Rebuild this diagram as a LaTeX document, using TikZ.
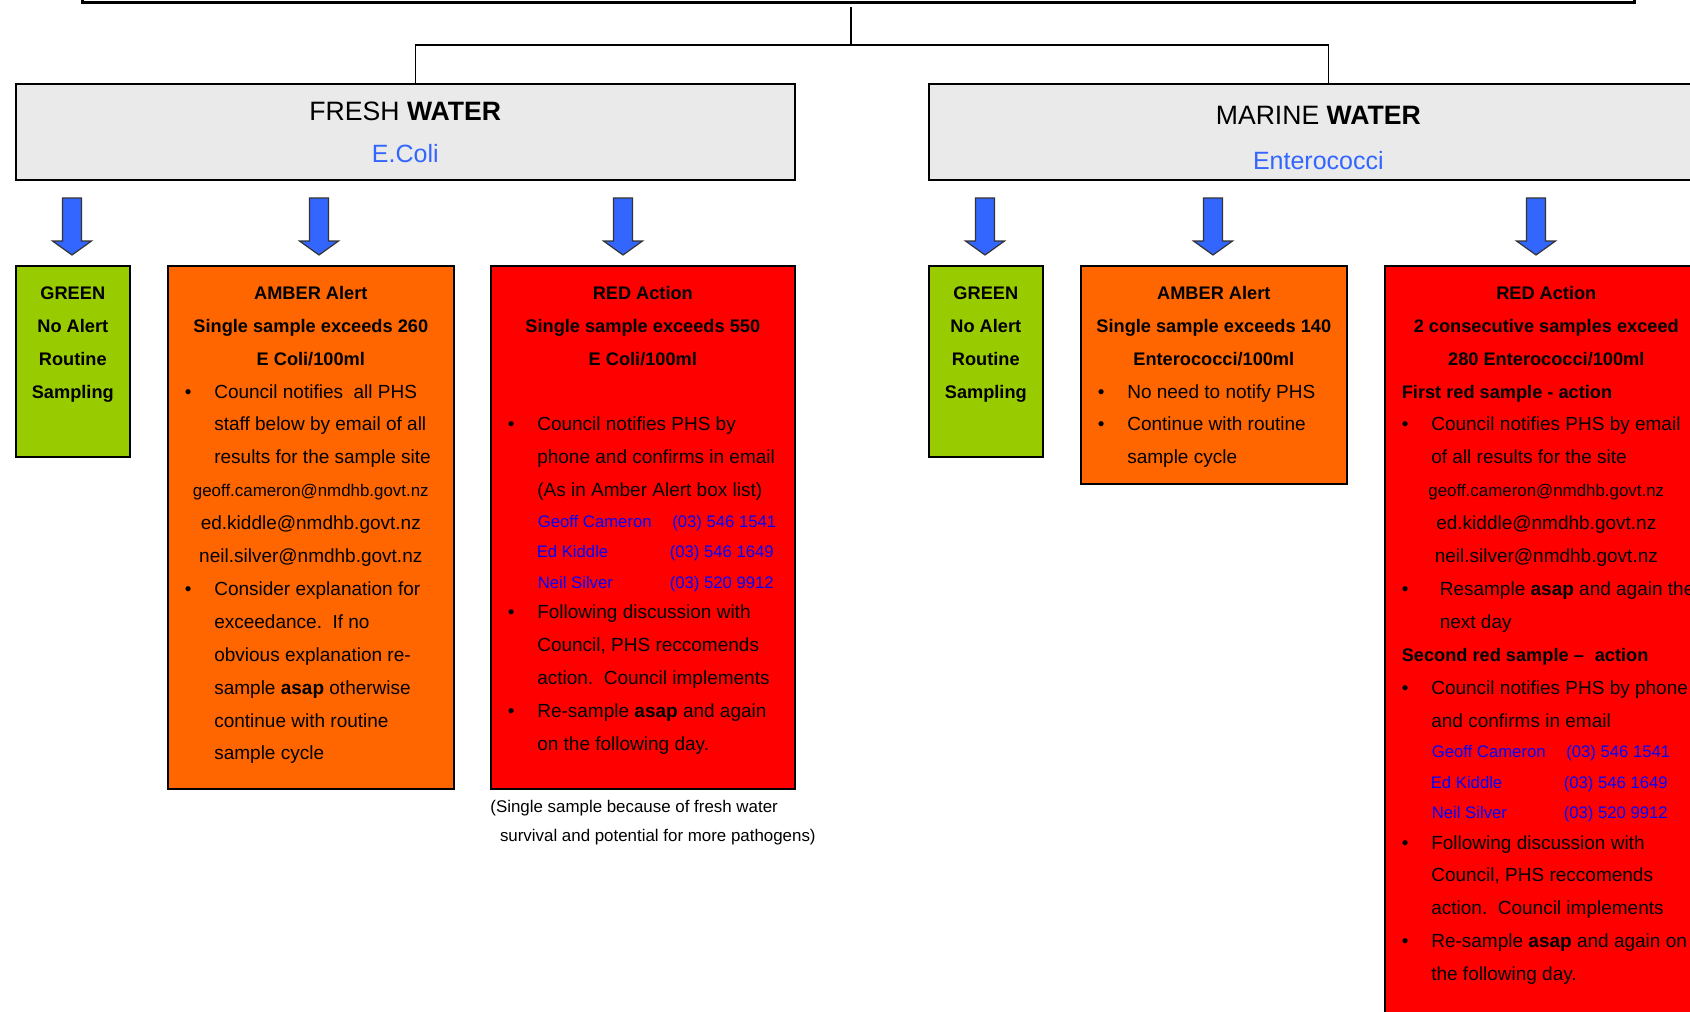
\documentclass[tikz,border=0pt]{standalone}
\usepackage{fontspec}
\setmainfont{Liberation Sans}
\usetikzlibrary{positioning}

\definecolor{hdrgray}{RGB}{234,234,234}
\definecolor{hdrblue}{RGB}{51,102,255}
\definecolor{greencol}{RGB}{153,204,0}
\definecolor{ambercol}{RGB}{255,102,0}
\definecolor{redcol}{RGB}{255,0,0}
\definecolor{callblue}{RGB}{0,0,255}

\newcommand{\boxtext}[5]{\parbox[t][#2][t]{#1}{\fontsize{9.5}{#4}\selectfont\rule{0pt}{#3}\ignorespaces#5}}
\newcommand{\hd}[1]{\makebox[\linewidth][c]{\fontsize{9.1}{16}\selectfont\bfseries #1}}
\newcommand{\ctr}[1]{\makebox[\linewidth][c]{#1}}
\newcommand{\bul}[2][14.75pt]{\hspace*{8.5pt}\makebox[#1][l]{\textbullet}#2}
\newcommand{\cont}[2][23.25pt]{\hspace*{#1}#2}
\newcommand{\sub}[1]{\hspace*{8.5pt}{\fontsize{9.1}{16}\selectfont\bfseries #1}}
\newcommand{\call}[4][23.5pt]{\hspace*{#1}{\fontsize{8.35}{15}\selectfont\color{callblue}\makebox[\dimexpr#3-#1\relax][l]{#2}#4}}
\newcommand{\mail}[1]{\ctr{\fontsize{8.45}{15}\selectfont #1}}

\begin{document}
\begin{tikzpicture}[x=0.5pt,y=-0.5pt,
		panel/.style={draw, line width=0.8pt, inner sep=0pt, anchor=north west},
		wire/.style={line width=0.6pt},
		blockarrow/.style={draw=black!80, line width=0.6pt, fill=hdrblue}]
		\useasboundingbox (0,0) rectangle (1690,1011);
		\clip (0,0) rectangle (1690,1011);

		\draw (81,-60) node [panel, line width=1.5pt, minimum width=776pt, minimum height=30.75pt] (wq) {};

		\draw (15,83) node [panel, fill=hdrgray] (fresh) {\boxtext{389.5pt}{48pt}{18.5pt}{20.75pt}{\ctr{\fontsize{13.3}{15}\selectfont FRESH \textbf{WATER}}\\
			\ctr{\fontsize{12.5}{15}\selectfont\color{hdrblue}E.Coli}}};
		\draw (928,83) node [panel, fill=hdrgray] (marine) {\boxtext{389.5pt}{48pt}{20.5pt}{22.25pt}{\ctr{\fontsize{13.3}{15}\selectfont MARINE \textbf{WATER}}\\
			\ctr{\fontsize{12.5}{15}\selectfont\color{hdrblue}Enterococci}}};

		\coordinate (hub) at (851,7);
		\coordinate (bus) at (851,45);
		\draw [wire] (hub) -- (bus);
		\draw [wire] (bus) -| ([xshift=5pt]fresh.north);
		\draw [wire] (bus) -| ([xshift=5pt]marine.north);

		\foreach \ax in {72,319,623,985,1213,1536}
			\draw [blockarrow] (\ax-9.5,198) -- (\ax+9.5,198) -- (\ax+9.5,241) -- (\ax+19.5,241) -- (\ax,255) -- (\ax-19.5,241) -- (\ax-9.5,241) -- cycle;

		\draw (15,265) node [panel, fill=greencol] (fgreen) {\boxtext{57pt}{95.5pt}{16.75pt}{16.45pt}{\hd{GREEN}\\
			\hd{No Alert}\\
			\hd{Routine}\\
			\hd{Sampling}}};

		\draw (167,265) node [panel, fill=ambercol] (famber) {\boxtext{143pt}{261.5pt}{16.75pt}{16.45pt}{\hd{AMBER Alert}\\
			\hd{Single sample exceeds 260}\\
			\hd{E Coli/100ml}\\
			\bul{Council notifies\ \ all PHS}\\
			\cont{staff below by email of all}\\
			\cont{results for the sample site}\\
			\mail{geoff.cameron@nmdhb.govt.nz}\\
			\ctr{ed.kiddle@nmdhb.govt.nz}\\
			\ctr{neil.silver@nmdhb.govt.nz}\\
			\bul{Consider explanation for}\\
			\cont{exceedance.\ \ If no}\\
			\cont{obvious explanation re-}\\
			\cont{sample \textbf{asap} otherwise}\\
			\cont{continue with routine}\\
			\cont{sample cycle}}};

		\draw (490,265) node [panel, fill=redcol] (fred) {\boxtext{152pt}{261.5pt}{16.75pt}{16.45pt}{\hd{RED Action}\\
			\hd{Single sample exceeds 550}\\
			\hd{E Coli/100ml}\\[16.45pt]
			\bul{Council notifies PHS by}\\
			\cont{phone and confirms in email}\\
			\cont{(As in Amber Alert box list)}\\[-1.2pt]
			\call{Geoff Cameron}{90.75pt}{(03) 546 1541}\\[-1.2pt]
			\call[23pt]{Ed Kiddle}{89.5pt}{(03) 546 1649}\\[-1.2pt]
			\call{Neil Silver}{89.5pt}{(03) 520 9912}\\[-1.2pt]
			\bul{Following discussion with}\\
			\cont{Council, PHS reccomends}\\
			\cont{action.\ \ Council implements}\\
			\bul{Re-sample \textbf{asap} and again}\\
			\cont{on the following day.}}};

		\draw (490,812) node [anchor=base west, inner sep=0pt] (fnote) {\parbox[t]{170pt}{\fontsize{8.45}{14.5}\selectfont (Single sample because of fresh water\\
			\hspace*{4.8pt}survival and potential for more pathogens)}};

		\draw (928,265) node [panel, fill=greencol] (mgreen) {\boxtext{57pt}{95.5pt}{16.75pt}{16.45pt}{\hd{GREEN}\\
			\hd{No Alert}\\
			\hd{Routine}\\
			\hd{Sampling}}};

		\draw (1080,265) node [panel, fill=ambercol] (mamber) {\boxtext{133pt}{109pt}{16.75pt}{16.45pt}{\hd{AMBER Alert}\\
			\hd{Single sample exceeds 140}\\
			\hd{Enterococci/100ml}\\
			\bul{No need to notify PHS}\\
			\bul{Continue with routine}\\
			\cont{sample cycle}}};

		\draw (1384,265) node [panel, fill=redcol] (mred) {\boxtext{161.5pt}{400pt}{16.75pt}{16.45pt}{\hd{RED Action}\\
			\hd{2 consecutive samples exceed}\\
			\hd{280 Enterococci/100ml}\\
			\sub{First red sample - action}\\
			\bul{Council notifies PHS by email}\\
			\cont{of all results for the site}\\
			\mail{geoff.cameron@nmdhb.govt.nz}\\
			\ctr{ed.kiddle@nmdhb.govt.nz}\\
			\ctr{neil.silver@nmdhb.govt.nz}\\
			\bul[19pt]{Resample \textbf{asap} and again the}\\
			\cont[27.5pt]{next day}\\
			\sub{Second red sample --\hspace{5.5pt}action}\\
			\bul{Council notifies PHS by phone}\\
			\cont{and confirms in email}\\[-1.2pt]
			\call{Geoff Cameron}{90.75pt}{(03) 546 1541}\\[-1.2pt]
			\call[23pt]{Ed Kiddle}{89.5pt}{(03) 546 1649}\\[-1.2pt]
			\call{Neil Silver}{89.5pt}{(03) 520 9912}\\[-1.2pt]
			\bul{Following discussion with}\\
			\cont{Council, PHS reccomends}\\
			\cont{action.\ \ Council implements}\\
			\bul{Re-sample \textbf{asap} and again on}\\
			\cont{the following day.}}};
	\end{tikzpicture}
\end{document}
